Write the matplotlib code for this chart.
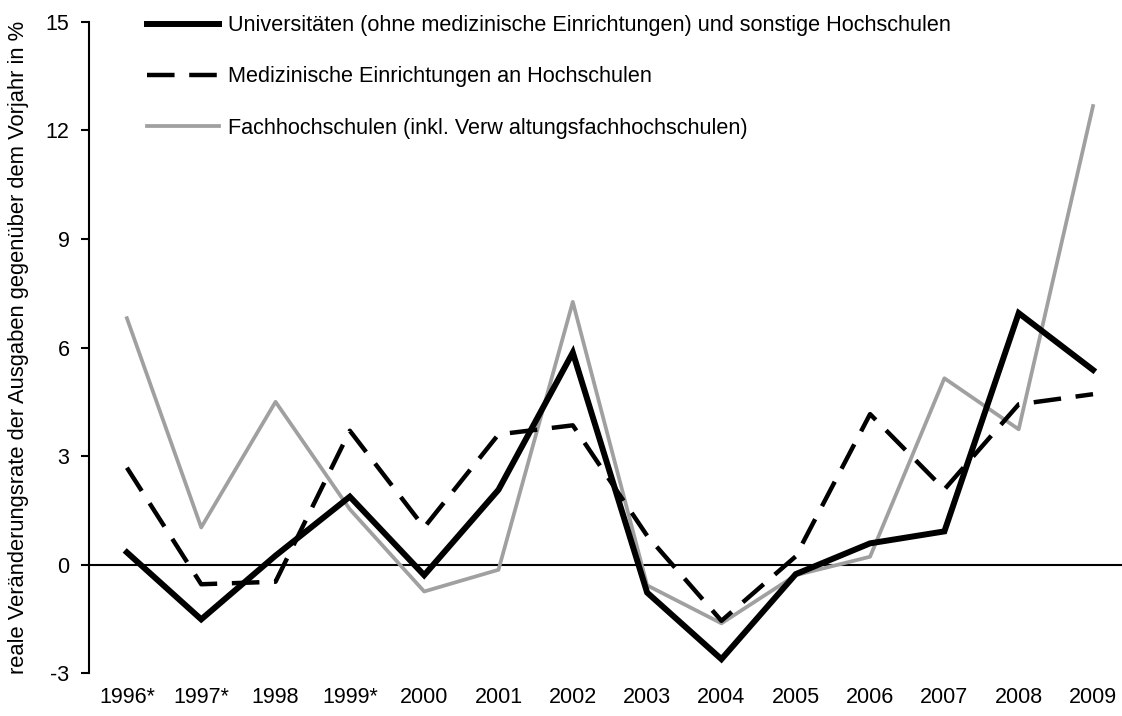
import matplotlib.pyplot as plt

plt.rcParams['font.family'] = ['Liberation Sans', 'DejaVu Sans']
plt.rcParams['axes.unicode_minus'] = False

# daten (reale veraenderung ggü. vorjahr in %)
jahre = ["1996*", "1997*", "1998", "1999*", "2000", "2001", "2002",
         "2003", "2004", "2005", "2006", "2007", "2008", "2009"]

universitaeten = [0.34, -1.51, 0.25, 1.88, -0.29, 2.07, 5.86,
                  -0.77, -2.61, -0.26, 0.59, 0.92, 6.95, 5.38]
medizin = [2.68, -0.54, -0.47, 3.70, 1.03, 3.60, 3.85,
           0.80, -1.55, 0.23, 4.16, 2.08, 4.43, 4.71]
fachhochschulen = [6.81, 1.03, 4.50, 1.53, -0.74, -0.14, 7.26,
                   -0.57, -1.62, -0.29, 0.22, 5.15, 3.74, 12.67]

labels = ["Universitäten (ohne medizinische Einrichtungen) und sonstige Hochschulen",
          "Medizinische Einrichtungen an Hochschulen",
          "Fachhochschulen (inkl. Verw altungsfachhochschulen)"]

fig = plt.figure(figsize=(11.22, 7.16), dpi=100)
ax = fig.add_axes([89 / 1122, 42.7 / 716, 1 - 89 / 1122, (673.3 - 21.7) / 716])

x = range(len(jahre))
ax.axhline(0, color="black", lw=1.5, zorder=1)
ax.plot(x, universitaeten, color="black", lw=4.3, label=labels[0],
        solid_joinstyle="miter", zorder=3)
ax.plot(x, medizin, color="black", lw=3.2, dashes=(6.2, 3.3), label=labels[1],
        zorder=4)
ax.plot(x, fachhochschulen, color="#a0a0a0", lw=2.7, label=labels[2], zorder=2)

ax.set_xlim(-0.51, 13.39)
ax.set_ylim(-3, 15)
ax.set_yticks([-3, 0, 3, 6, 9, 12, 15])
ax.set_xticks(list(x))
ax.set_xticklabels(jahre)

for s in ["top", "right", "bottom"]:
    ax.spines[s].set_visible(False)
ax.spines["left"].set_linewidth(1.5)
ax.tick_params(axis="x", length=0, labelsize=15.5, pad=10)
ax.tick_params(axis="y", length=6, width=1.5, labelsize=15.5, pad=8)

ax.set_ylabel("reale Veränderungsrate der Ausgaben gegenüber dem Vorjahr in %",
              fontsize=15.8, labelpad=12)

ax.legend(loc="upper left", bbox_to_anchor=(0.037, 1.04), frameon=False,
          fontsize=15.6, handlelength=3.35, handletextpad=0.38, labelspacing=1.4)

fig.savefig("out.png", dpi=100)
